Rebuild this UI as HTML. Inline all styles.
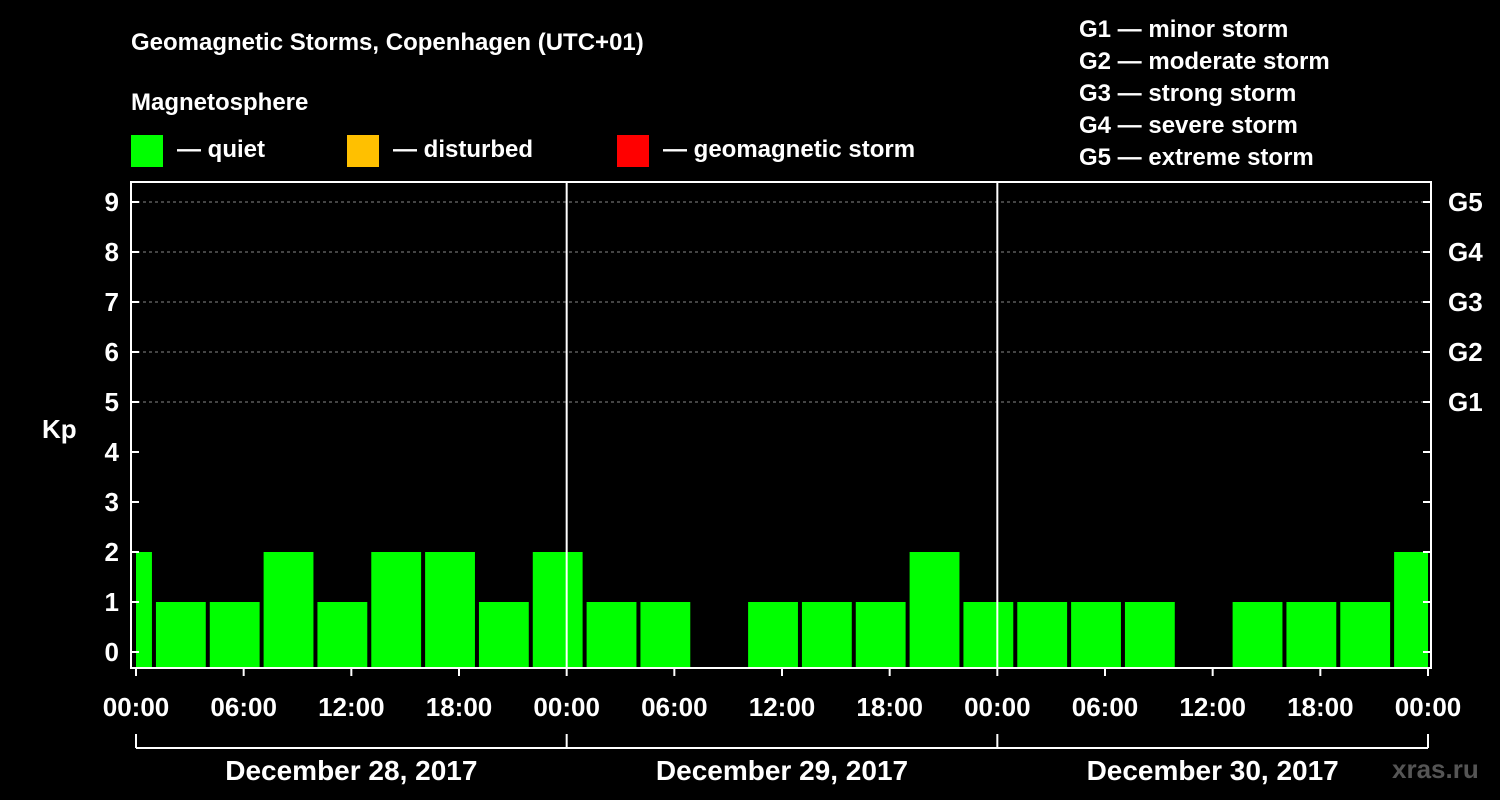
<!DOCTYPE html>
<html><head><meta charset="utf-8"><style>
html,body{margin:0;padding:0;background:#000;}
svg{display:block;font-family:"Liberation Sans",Arial,sans-serif;font-weight:bold;}
</style></head><body>
<svg id="chart" width="1500" height="800" xmlns="http://www.w3.org/2000/svg">
<text x="131" y="50" fill="#fff" font-size="24">Geomagnetic Storms, Copenhagen (UTC+01)</text>
<text x="131" y="110" fill="#fff" font-size="24">Magnetosphere</text>
<g><rect x="131" y="135" width="32" height="32" fill="#00ff00"/><text x="177" y="157" fill="#fff" font-size="24">— quiet</text></g>
<g><rect x="347" y="135" width="32" height="32" fill="#ffc000"/><text x="393" y="157" fill="#fff" font-size="24">— disturbed</text></g>
<g><rect x="617" y="135" width="32" height="32" fill="#ff0000"/><text x="663" y="157" fill="#fff" font-size="24">— geomagnetic storm</text></g>
<g fill="#fff" font-size="24">
<text x="1079" y="37">G1 — minor storm</text>
<text x="1079" y="69">G2 — moderate storm</text>
<text x="1079" y="101">G3 — strong storm</text>
<text x="1079" y="133">G4 — severe storm</text>
<text x="1079" y="165">G5 — extreme storm</text>
</g>
<text x="42" y="438" fill="#fff" font-size="26">Kp</text>
<text x="1392" y="778" fill="#555" font-size="26">xras.ru</text>
<g id="plot"></g>
</svg>
<script>
const kpValues=[2,1,1,2,1,2,2,1,2,1,1,0,1,1,1,2,1,1,1,1,0,1,1,1,2];
const startHours=[-2,1,4,7,10,13,16,19,22,25,28,31,34,37,40,43,46,49,52,55,58,61,64,67,70];
const yTicks=[0,1,2,3,4,5,6,7,8,9];
const gLabels=["G1","G2","G3","G4","G5"];
const xTickLabels=["00:00","06:00","12:00","18:00","00:00","06:00","12:00","18:00","00:00","06:00","12:00","18:00","00:00"];
const dayLabels=["December 28, 2017","December 29, 2017","December 30, 2017"];
const NS="http://www.w3.org/2000/svg";
const L=131,R=1431,T=182,B=668,X0=136,X1=1428;
const xs=h=>X0+(X1-X0)*h/72;
const ys=v=>652-50*v;
const g=document.getElementById('plot');
function mk(t,a){const e=document.createElementNS(NS,t);for(const k in a)e.setAttribute(k,a[k]);g.appendChild(e);return e;}
// grid
for(let v=5;v<=9;v++){const e=mk('line',{x1:L,x2:R,y1:ys(v),y2:ys(v),stroke:'#888','stroke-dasharray':'3,3','stroke-width':1});

}
// bars
kpValues.forEach((v,i)=>{if(v<=0)return;
let a=Math.max(xs(startHours[i])+2,X0),b=Math.min(xs(startHours[i]+3)-2,X1);
const r=mk('rect',{x:a,y:ys(v),width:b-a,height:B-ys(v),fill:'#00ff00'});

});
// day separators
[24,48].forEach(h=>{const e=mk('line',{x1:xs(h),x2:xs(h),y1:T,y2:B,stroke:'#fff','stroke-width':2});

});
// frame
const fr=mk('rect',{x:L,y:T,width:R-L,height:B-T,fill:'none',stroke:'#fff','stroke-width':2});


// y ticks
yTicks.forEach(v=>{mk('line',{x1:L,x2:L+8,y1:ys(v),y2:ys(v),stroke:'#fff','stroke-width':2});
mk('line',{x1:R-8,x2:R,y1:ys(v),y2:ys(v),stroke:'#fff','stroke-width':2});
const t=mk('text',{x:L-12,y:ys(v)+9,fill:'#fff','font-size':26,'text-anchor':'end'});t.textContent=v;

});
gLabels.forEach((s,i)=>{const t=mk('text',{x:R+17,y:ys(5+i)+9,fill:'#fff','font-size':26});t.textContent=s;

});
// x ticks
xTickLabels.forEach((s,i)=>{const x=xs(i*6);
mk('line',{x1:x,x2:x,y1:B,y2:B+8,stroke:'#fff','stroke-width':2});
const t=mk('text',{x:x,y:716,fill:'#fff','font-size':26,'text-anchor':'middle'});t.textContent=s;

});
// date bracket
mk('line',{x1:X0,x2:X1,y1:748,y2:748,stroke:'#fff','stroke-width':2});
[0,24,48,72].forEach(h=>mk('line',{x1:xs(h),x2:xs(h),y1:734,y2:748,stroke:'#fff','stroke-width':2}));
dayLabels.forEach((s,i)=>{const t=mk('text',{x:xs(i*24+12),y:780,fill:'#fff','font-size':28,'text-anchor':'middle'});t.textContent=s;

});
</script>
</body></html>
